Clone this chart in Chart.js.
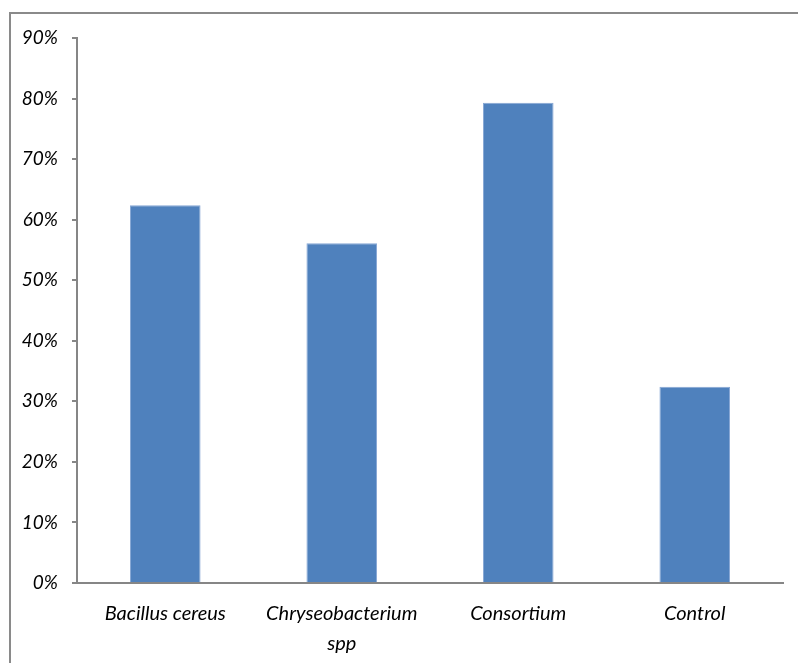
<!DOCTYPE html>
<html><head><meta charset="utf-8">
<script src="https://cdn.jsdelivr.net/npm/chart.js@4"></script>
<style>
html,body{margin:0;padding:0;background:#fff;width:798px;height:663px;overflow:hidden;}
#wrap{position:absolute;left:0;top:0;width:798px;height:663px;}
#frame{position:absolute;left:9px;top:12px;width:800px;height:700px;border-left:2px solid #8a8a8a;border-top:2px solid #8a8a8a;}
</style></head>
<body>
<div id="frame"></div>
<div id="wrap"><canvas id="c" width="798" height="663"></canvas></div>
<script>
const categories = ["Bacillus cereus", ["Chryseobacterium","spp"], "Consortium", "Control"];
const values = [0.624, 0.561, 0.793, 0.324];
const yTicks = [0,0.1,0.2,0.3,0.4,0.5,0.6,0.7,0.8,0.9];

new Chart(document.getElementById('c'), {
  type: 'bar',
  data: { labels: categories, datasets: [{ data: values, backgroundColor: '#4F81BD', borderColor: '#86A6D4', borderWidth: 1, barPercentage: 0.4, categoryPercentage: 1.0 }] },
  options: {
    responsive: false, animation: false,
    layout: { padding: { top: 38, right: 15, left: 0, bottom: 0 } },
    plugins: { legend: { display: false }, tooltip: { enabled: false } },
    scales: {
      x: {
        grid: { display: true, drawOnChartArea: false, drawTicks: false },
        border: { display: true, color: '#868686', width: 2 },
        ticks: { color: '#000', padding: 16, font: { family: 'Lato', style: 'italic', size: 20, lineHeight: 1.5 }, maxRotation: 0 },
        afterFit: s => { s.height = 80; }
      },
      y: {
        min: 0, max: 0.9,
        afterBuildTicks: s => { s.ticks = yTicks.map(v => ({ value: v })); },
        grid: { display: true, drawOnChartArea: false, drawTicks: true, tickLength: 5, color: '#868686', lineWidth: 2 },
        border: { display: true, color: '#868686', width: 2 },
        ticks: { color: '#000', padding: 14, font: { family: 'Lato', style: 'italic', size: 19 }, callback: v => Math.round(v*100) + '%' },
        afterFit: s => { s.width = 77; }
      }
    }
  }
});
</script>
</body></html>
